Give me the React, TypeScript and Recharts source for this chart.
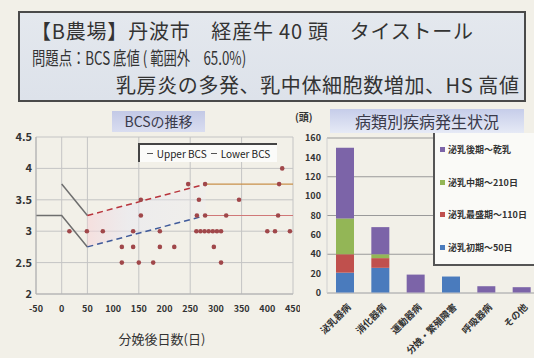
import React from 'react';
import {
  ComposedChart,
  Line,
  Scatter,
  Area,
  XAxis,
  YAxis,
  CartesianGrid,
  BarChart,
  Bar,
} from 'recharts';

const FONT = '"Noto Sans CJK JP", "Noto Sans", sans-serif';

// ---- BCS chart data ----
const dayTicks = [-50, 0, 50, 100, 150, 200, 250, 300, 350, 400, 450];
const bcsTicks = [2, 2.5, 3, 3.5, 4, 4.5];

// Upper / lower BCS guide lines (days after calving, BCS)
const upperDays = [0, 50, 280, 450];
const upperBcs = [3.75, 3.25, 3.75, 3.75];
const lowerDays = [-50, 0, 50, 280, 450];
const lowerBcs = [3.25, 3.25, 2.75, 3.25, 3.25];

// Individual cows
const cowDays = [
  15, 49, 80, 117, 139, 117, 150, 178, 154, 154, 139, 191, 191, 219, 246, 279, 267, 345,
  263, 279, 320, 262, 270, 278, 286, 294, 302, 310, 296, 310, 429, 423, 421, 400, 415, 444,
];
const cowBcs = [
  3.0, 3.0, 3.0, 2.75, 2.75, 2.5, 2.5, 2.5, 3.25, 3.5, 3.0, 3.0, 2.75, 2.75, 3.75, 3.75, 3.5, 3.5,
  3.25, 3.25, 3.25, 3.0, 3.0, 3.0, 3.0, 3.0, 3.0, 3.0, 2.75, 2.5, 4.0, 3.75, 3.25, 3.0, 3.0, 3.0,
];

// ---- Disease chart data ----
const diseaseNames = ['泌乳器病', '消化器病', '運動器病', '分娩・繁殖障害', '呼吸器病', 'その他'];
const earlyCounts = [21, 26, 0, 17, 0, 0];
const peakCounts = [19, 10, 0, 0, 0, 0];
const midCounts = [37, 4, 0, 0, 0, 0];
const lateCounts = [73, 28, 19, 0, 7, 6];
const countTicks = [0, 20, 40, 60, 80, 100, 120, 140, 160];
const stageNames = ['泌乳初期〜50日', '泌乳最盛期〜110日', '泌乳中期〜210日', '泌乳後期〜乾乳'];
const stageColors = ['#4a7bbd', '#c0504d', '#93b656', '#7c64a8'];

const segment = (days: number[], vals: number[], from: number, to: number) =>
  days.slice(from, to + 1).map((d, i) => ({ day: d, bcs: vals[from + i] }));

const upperSolid = segment(upperDays, upperBcs, 0, 1);
const upperDash = segment(upperDays, upperBcs, 1, 2);
const upperFlat = segment(upperDays, upperBcs, 2, 3);
const lowerSolid = segment(lowerDays, lowerBcs, 0, 2);
const lowerDash = segment(lowerDays, lowerBcs, 2, 3);
const lowerFlat = segment(lowerDays, lowerBcs, 3, 4);

const band = [
  { day: upperDays[1], range: [lowerBcs[2], upperBcs[1]] },
  { day: upperDays[2], range: [lowerBcs[3], upperBcs[2]] },
];

const cows = cowDays.map((d, i) => ({ day: d, bcs: cowBcs[i] }));

const diseaseData = diseaseNames.map((name, i) => ({
  name,
  early: earlyCounts[i],
  peak: peakCounts[i],
  mid: midCounts[i],
  late: lateCounts[i],
}));

const CowDot = (props: any) => {
  const { cx, cy } = props;
  if (cx == null || cy == null) return null;
  return <circle cx={cx} cy={cy} r={2.3} fill="#a0474a" />;
};

const RotatedTick = (props: any) => {
  const { x, y, payload } = props;
  return (
    <g transform={`translate(${x + 4},${y + 4})`}>
      <text
        transform="rotate(-45)"
        textAnchor="end"
        fontSize={9.5}
        fontWeight={700}
        fill="#333"
        fontFamily={FONT}
        dy={4}
      >
        {payload.value}
      </text>
    </g>
  );
};

export default function App() {
  return (
    <div
      style={{
        position: 'absolute',
        left: 0,
        top: 0,
        width: 534,
        height: 358,
        overflow: 'hidden',
        background: '#f2f0e8',
        fontFamily: FONT,
        color: '#333',
      }}
    >
      {/* Header box */}
      <div
        style={{
          position: 'absolute',
          left: 18,
          top: 11,
          width: 504,
          height: 87,
          border: '2px solid #4a4a4a',
          background: 'linear-gradient(180deg, #e4e8ee 0%, #dde2ea 100%)',
        }}
      />
      <div style={{ position: 'absolute', left: 31, top: 18, fontSize: 20, letterSpacing: 0.8, lineHeight: '26px', whiteSpace: 'pre' }}>
        {'【B農場】丹波市　経産牛 40 頭　タイストール'}
      </div>
      <div
        style={{
          position: 'absolute',
          left: 32,
          top: 45,
          fontSize: 18,
          lineHeight: '25px',
          whiteSpace: 'pre',
          transform: 'scaleX(0.74)',
          transformOrigin: '0 50%',
        }}
      >
        {'問題点：BCS 底値 ( 範囲外　65.0%)'}
      </div>
      <div style={{ position: 'absolute', left: 116, top: 72, fontSize: 20, letterSpacing: 0.6, lineHeight: '26px', whiteSpace: 'pre' }}>
        {'乳房炎の多発、乳中体細胞数増加、HS 高値'}
      </div>

      {/* BCS chart */}
      <div style={{ position: 'absolute', left: 0, top: 100 }}>
        <ComposedChart width={300} height={230} margin={{ top: 37, right: 7, bottom: 16, left: 8 }}>
          <defs>
            <linearGradient id="bandFill" x1="0" y1="0" x2="1" y2="0">
              <stop offset="0%" stopColor="#f7d2d6" stopOpacity={0.55} />
              <stop offset="35%" stopColor="#e6e6f3" stopOpacity={0.45} />
              <stop offset="100%" stopColor="#ececf2" stopOpacity={0.3} />
            </linearGradient>
          </defs>
          <CartesianGrid stroke="#c4c4c4" strokeWidth={1} />
          <XAxis
            type="number"
            dataKey="day"
            domain={[-50, 450]}
            ticks={dayTicks}
            allowDataOverflow
            tick={{ fontSize: 9, fontWeight: 700, fill: '#333', fontFamily: FONT }}
            tickLine={false}
            tickSize={0}
            tickMargin={12}
            stroke="#b0b0b0"
            height={20}
          />
          <YAxis
            type="number"
            dataKey="bcs"
            domain={[2, 4.5]}
            ticks={bcsTicks}
            tick={{ fontSize: 11, fontWeight: 700, fill: '#333', fontFamily: FONT }}
            tickLine={false}
            tickSize={0}
            tickMargin={4}
            stroke="#b0b0b0"
            width={28}
          />
          <Area
            data={band}
            dataKey="range"
            type="linear"
            stroke="none"
            fill="url(#bandFill)"
            fillOpacity={1}
            isAnimationActive={false}
          />
          <Line data={upperSolid} dataKey="bcs" type="linear" stroke="#6e6e6e" strokeWidth={1.5} dot={false} isAnimationActive={false} />
          <Line data={upperDash} dataKey="bcs" type="linear" stroke="#b8343c" strokeWidth={1.5} strokeDasharray="6 4" dot={false} isAnimationActive={false} />
          <Line data={upperFlat} dataKey="bcs" type="linear" stroke="#c8904a" strokeWidth={1.2} dot={false} isAnimationActive={false} />
          <Line data={lowerSolid} dataKey="bcs" type="linear" stroke="#6e6e6e" strokeWidth={1.5} dot={false} isAnimationActive={false} />
          <Line data={lowerDash} dataKey="bcs" type="linear" stroke="#3f5a9a" strokeWidth={1.5} strokeDasharray="6 4" dot={false} isAnimationActive={false} />
          <Line data={lowerFlat} dataKey="bcs" type="linear" stroke="#d07878" strokeWidth={1.2} dot={false} isAnimationActive={false} />
          <Scatter data={cows} dataKey="bcs" shape={<CowDot />} isAnimationActive={false} />
        </ComposedChart>
      </div>

      {/* BCS chart title */}
      <div
        style={{
          position: 'absolute',
          left: 112,
          top: 111,
          width: 93,
          height: 21,
          background: 'linear-gradient(180deg, #c3c9e6 0%, #d9ddf0 100%)',
          fontSize: 14,
          lineHeight: '21px',
          textAlign: 'center',
          color: '#3a3a4a',
          whiteSpace: 'pre',
        }}
      >
        BCSの推移
      </div>

      {/* BCS legend */}
      <div
        style={{
          position: 'absolute',
          left: 138,
          top: 143,
          width: 139,
          height: 19,
          background: '#fbfbf9',
          borderLeft: '2px solid #444',
          borderTop: '2px solid #444',
          boxSizing: 'border-box',
          fontSize: 10,
          lineHeight: '17px',
          display: 'flex',
          alignItems: 'center',
          justifyContent: 'center',
          gap: 4,
          color: '#222',
          whiteSpace: 'pre',
        }}
      >
        <span style={{ display: 'inline-block', width: 6, height: 1.5, background: '#555' }} />
        <span>Upper BCS</span>
        <span style={{ display: 'inline-block', width: 6, height: 1.5, background: '#555' }} />
        <span>Lower BCS</span>
      </div>

      {/* x-axis title */}
      <div
        style={{
          position: 'absolute',
          left: 100,
          top: 330,
          width: 124,
          textAlign: 'center',
          fontSize: 13,
          lineHeight: '18px',
          color: '#333',
        }}
      >
        分娩後日数(日)
      </div>

      {/* Disease chart */}
      <div style={{ position: 'absolute', left: 290, top: 100 }}>
        <BarChart
          width={250}
          height={258}
          data={diseaseData}
          margin={{ top: 38, right: 1, bottom: 5, left: 7 }}
          barSize={18}
        >
          <CartesianGrid vertical={false} stroke="#9a9a9a" strokeWidth={1} />
          <XAxis
            dataKey="name"
            interval={0}
            tick={<RotatedTick />}
            tickLine={false}
            stroke="#c8c8c8"
            height={60}
          />
          <YAxis
            domain={[0, 160]}
            ticks={countTicks}
            tick={{ fontSize: 9, fontWeight: 700, fill: '#333', fontFamily: FONT }}
            tickLine={false}
            tickSize={0}
            tickMargin={6}
            stroke="#d0d0d0"
            width={30}
          />
          <Bar dataKey="early" stackId="s" fill={stageColors[0]} isAnimationActive={false} />
          <Bar dataKey="peak" stackId="s" fill={stageColors[1]} isAnimationActive={false} />
          <Bar dataKey="mid" stackId="s" fill={stageColors[2]} isAnimationActive={false} />
          <Bar dataKey="late" stackId="s" fill={stageColors[3]} isAnimationActive={false} />
        </BarChart>
      </div>

      {/* Disease chart title */}
      <div
        style={{
          position: 'absolute',
          left: 330,
          top: 109,
          width: 194,
          height: 24,
          background: 'linear-gradient(180deg, #c6cdea 0%, #e6eaf6 100%)',
          fontSize: 16,
          lineHeight: '24px',
          textAlign: 'center',
          color: '#3a3a4a',
        }}
      >
        病類別疾病発生状況
      </div>
      <div style={{ position: 'absolute', left: 295, top: 110, fontSize: 10, fontWeight: 700, lineHeight: '14px' }}>
        (頭)
      </div>

      {/* Disease legend */}
      <div
        style={{
          position: 'absolute',
          left: 433,
          top: 133,
          width: 110,
          height: 133,
          background: '#fafaf7',
          borderLeft: '2px solid #555',
          borderBottom: '2px solid #555',
          boxSizing: 'border-box',
          display: 'flex',
          flexDirection: 'column',
          justifyContent: 'space-around',
          paddingLeft: 5,
        }}
      >
        {[3, 2, 1, 0].map((k) => (
          <div key={k} style={{ display: 'flex', alignItems: 'center', gap: 3, fontSize: 9, fontWeight: 700, color: '#333', whiteSpace: 'pre' }}>
            <span style={{ display: 'inline-block', width: 5, height: 5, background: stageColors[k] }} />
            <span>{stageNames[k]}</span>
          </div>
        ))}
      </div>
    </div>
  );
}
